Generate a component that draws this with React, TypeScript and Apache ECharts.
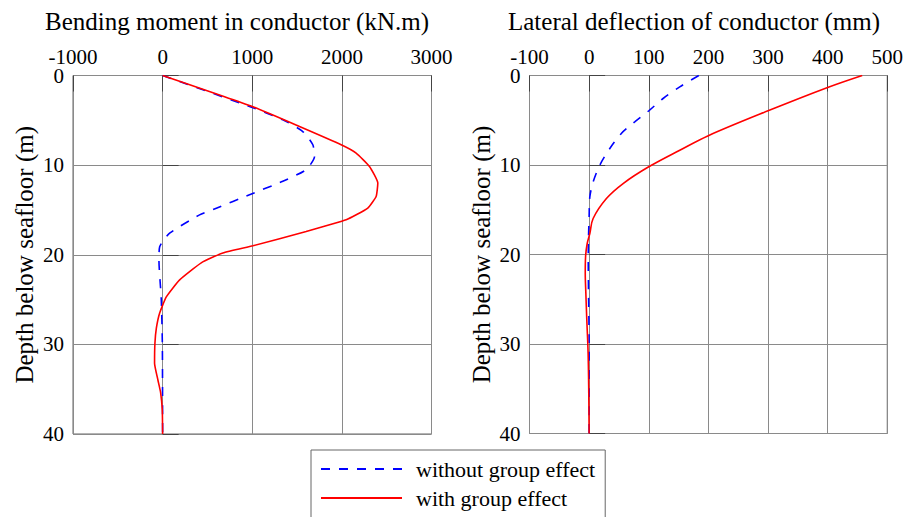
import React, { useEffect, useRef } from "react";
import * as echarts from "echarts";

// Bending moment (kN.m) vs depth (m)
const momentWithoutDepth = [0, 3.46, 4.94, 6.25, 7.73, 9.04, 10.5, 11.8, 13.3, 14.8, 15.55, 17.6, 19.1, 20.6, 25, 30, 40];
const momentWithout = [0, 970, 1341, 1564, 1676, 1695, 1602, 1341, 970, 599, 412, 78, -33, -41, -15, -3, 0];
const momentWithDepth = [0, 3.46, 5.69, 7.73, 8.66, 10.15, 12.0, 13.5, 14.8, 16.1, 17.4, 19.0, 19.8, 20.9, 22.8, 24.7, 26.5, 28.2, 29.9, 32.1, 34.0, 35.4, 37.3, 40];
const momentWith = [0, 1000, 1527, 1992, 2159, 2308, 2401, 2382, 2289, 2048, 1602, 1007, 672, 431, 190, 41, -33, -70, -86, -90, -52, -22, -4, 0];

// Lateral deflection (mm) vs depth (m)
const deflWithoutDepth = [0, 1.27, 2.57, 3.95, 5.18, 6.48, 8.16, 10.0, 11.9, 13.56, 15.8, 18, 20.6, 24.3, 30, 40];
const deflWithout = [184, 152, 124, 100, 76.5, 54, 34.7, 18, 6.7, 1.2, 0, -1, -1.5, -1, 0, 0];
const deflWithDepth = [0, 1.34, 3.95, 6.75, 8.35, 10.2, 12.07, 13.75, 15.98, 17.66, 18.8, 20.3, 22.1, 24.3, 27.3, 31, 35.5, 40];
const deflWith = [458, 400, 300, 199, 152, 100, 57, 29, 6.7, 1.2, -3.3, -6, -6.5, -5.5, -3.9, -1.7, -0.6, 0];

const titles = ["Bending moment in conductor (kN.m)", "Lateral deflection of conductor (mm)"];
const yName = "Depth below seafloor (m)";
const seriesNames = ["without group effect", "with group effect"];

const FONT = "Liberation Serif, Times New Roman, serif";

function pairs(xs: number[], ys: number[]) {
  return xs.map((x, i) => [x, ys[i]]);
}

export default function App() {
  const ref = useRef<HTMLDivElement>(null);
  useEffect(() => {
    if (!ref.current) return;
    const chart = echarts.init(ref.current, null, { renderer: "svg" });
    const gridColor = "#8a8a8a";
    const xAxisBase = (idx: number, min: number, max: number, interval: number) => ({
      type: "value",
      gridIndex: idx,
      position: "top",
      min,
      max,
      interval,
      axisLine: { show: false },
      axisTick: { show: true, inside: true, length: 16, lineStyle: { color: "#444" } },
      splitLine: { show: true, lineStyle: { color: gridColor, width: 1 } },
      axisLabel: { color: "#000", fontFamily: FONT, fontSize: 21, margin: 8, formatter: (v: number) => String(v) },
    });
    const yAxisBase = (idx: number) => ({
      type: "value",
      gridIndex: idx,
      inverse: true,
      min: 0,
      max: 40,
      interval: 10,
      name: yName,
      nameLocation: "middle",
      nameRotate: 90,
      nameGap: 36,
      nameTextStyle: { color: "#000", fontFamily: FONT, fontSize: 25 },
      axisLine: { show: false },
      axisTick: { show: true, inside: true, length: 16, lineStyle: { color: "#444" } },
      splitLine: { show: true, lineStyle: { color: gridColor, width: 1 } },
      axisLabel: { color: "#000", fontFamily: FONT, fontSize: 21, margin: 9, formatter: (v: number) => String(v) },
    });
    const blueStyle = { color: "#0000ff", width: 1.6, type: [9, 9] };
    const redStyle = { color: "#ff0000", width: 1.6, type: "solid" };
    chart.setOption({
      animation: false,
      backgroundColor: "#fff",
      textStyle: { fontFamily: FONT },
      graphic: [
        { type: "text", x: 237, y: 21, style: { text: titles[0], fontFamily: FONT, fontSize: 25, fill: "#000", textAlign: "center", textVerticalAlign: "middle" } },
        { type: "text", x: 694, y: 21, style: { text: titles[1], fontFamily: FONT, fontSize: 25, fill: "#000", textAlign: "center", textVerticalAlign: "middle" } },
      ],
      grid: [
        { left: 73, top: 75.5, width: 358.5, height: 358.5, show: true, borderColor: "#666", borderWidth: 1, backgroundColor: "transparent" },
        { left: 529.5, top: 75.5, width: 358.5, height: 358, show: true, borderColor: "#666", borderWidth: 1, backgroundColor: "transparent" },
      ],
      xAxis: [xAxisBase(0, -1000, 3000, 1000), xAxisBase(1, -100, 500, 100)],
      yAxis: [yAxisBase(0), yAxisBase(1)],
      legend: {
        orient: "vertical",
        left: 311,
        top: 450,
        height: 120,
        padding: [8, 10, 30, 9],
        itemGap: 7,
        itemWidth: 81,
        itemHeight: 22,
        borderColor: "#666",
        borderWidth: 1,
        backgroundColor: "#fff",
        data: seriesNames,
        itemStyle: { opacity: 0 },
        textStyle: { fontFamily: FONT, fontSize: 22, color: "#000", padding: [0, 0, 0, 9], lineHeight: 22 },
      },
      series: [
        { name: seriesNames[0], type: "line", xAxisIndex: 0, yAxisIndex: 0, data: pairs(momentWithout, momentWithoutDepth), symbol: "none", showSymbol: false, smooth: 0.2, lineStyle: blueStyle, itemStyle: { color: "#0000ff" }, z: 3 },
        { name: seriesNames[1], type: "line", xAxisIndex: 0, yAxisIndex: 0, data: pairs(momentWith, momentWithDepth), symbol: "none", showSymbol: false, smooth: 0.15, lineStyle: redStyle, itemStyle: { color: "#ff0000" }, z: 4 },
        { name: seriesNames[0], type: "line", xAxisIndex: 1, yAxisIndex: 1, data: pairs(deflWithout, deflWithoutDepth), symbol: "none", showSymbol: false, smooth: 0.3, lineStyle: blueStyle, itemStyle: { color: "#0000ff" }, z: 3 },
        { name: seriesNames[1], type: "line", xAxisIndex: 1, yAxisIndex: 1, data: pairs(deflWith, deflWithDepth), symbol: "none", showSymbol: false, smooth: 0.35, lineStyle: redStyle, itemStyle: { color: "#ff0000" }, z: 4 },
      ],
    });
    return () => chart.dispose();
  }, []);
  return <div ref={ref} style={{ position: "fixed", left: 0, top: 0, width: 906, height: 517 }} />;
}
